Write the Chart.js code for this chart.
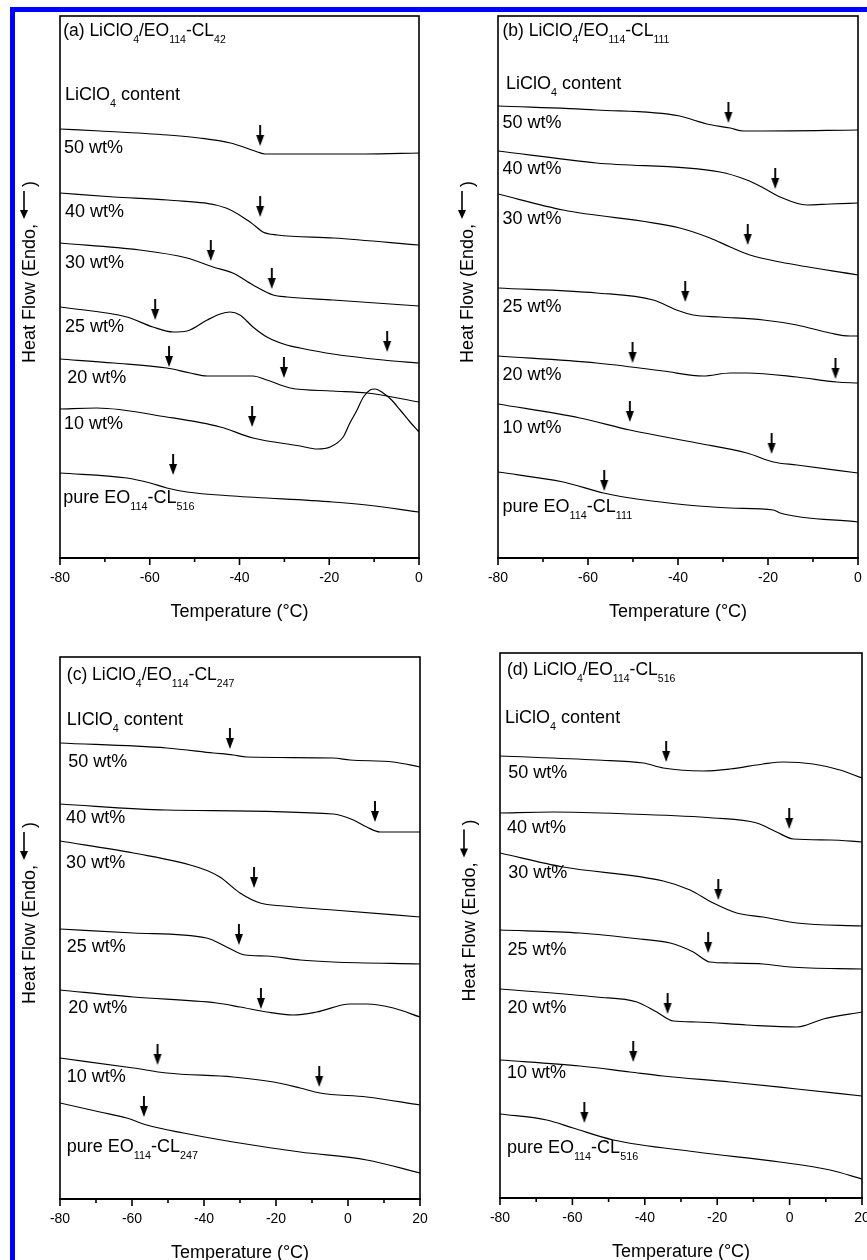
<!DOCTYPE html>
<html>
<head>
<meta charset="utf-8">
<script src="https://cdn.jsdelivr.net/npm/chart.js@4.4.0/dist/chart.umd.min.js"></script>
<style>
html, body { margin: 0; padding: 0; background: #fff; width: 867px; height: 1260px; overflow: hidden; }
#frame { position: absolute; left: 10px; top: 7px; right: 0; bottom: 0; border-top: 5px solid #0000ff; border-left: 5px solid #0000ff; }
canvas { position: absolute; }
</style>
</head>
<body>
<div id="frame"></div>
<canvas id="pa" width="443" height="630" style="left:0;top:0"></canvas>
<canvas id="pb" width="449" height="630" style="left:433px;top:0"></canvas>
<canvas id="pc" width="444" height="630" style="left:0;top:630px"></canvas>
<canvas id="pd" width="453" height="630" style="left:433px;top:630px"></canvas>
<script>
// DSC traces, [temperature (°C), heat flow (a.u., curves offset)]

// (a) LiClO4/EO114-CL42
const a50 = [[-80,42.9],[-71,42.7],[-56,42.3],[-49,42.0],[-42,41.5],[-38.5,41.0],[-36,40.6],[-34.3,40.4],[-25,40.4],[-12,40.4],[0,40.5]];
const a40 = [[-80,36.5],[-68,36.1],[-56,35.8],[-43,35.0],[-38.3,33.8],[-36.5,33.2],[-34.8,32.6],[-31.6,32.3],[-19,32.0],[0,31.3]];
const a30 = [[-80,31.5],[-62.2,30.8],[-51.7,30.0],[-45.9,29.1],[-41.5,28.5],[-37,27.3],[-32.5,26.3],[-29.4,26.1],[-19.2,25.8],[0,25.2]];
const a25 = [[-80,25.1],[-65.1,24.1],[-59.3,23.1],[-54.8,22.6],[-51.7,22.7],[-47.2,23.8],[-44.3,24.4],[-42.1,24.6],[-39.9,24.3],[-37,23.1],[-33.9,22.1],[-29.5,21.3],[-26.5,21.0],[-19.2,20.4],[-8,19.8],[0,19.5]];
const a20 = [[-80,19.9],[-68,19.5],[-56.2,19.0],[-51,18.5],[-47.2,18.2],[-40,18.2],[-37,18.2],[-33.9,17.8],[-28.7,17.0],[-19.2,16.7],[-11.6,16.5],[0,15.6]];
const a10 = [[-80,14.9],[-71.8,15.0],[-56.2,14.1],[-44.3,13.1],[-37,12.0],[-26.5,11.2],[-22.7,10.9],[-19.8,11.1],[-16.9,12.1],[-15.4,13.5],[-13.8,14.8],[-12.4,16.1],[-10.9,16.8],[-9.8,16.9],[-8,16.5],[-6.1,15.8],[-4.2,14.8],[-2,13.6],[0,12.6]];
const aPure = [[-80,8.5],[-65.1,8.0],[-59.9,7.5],[-56.2,7.0],[-51.7,6.6],[-41.4,6.2],[-19.2,5.6],[-11.7,5.3],[0,4.6]];
const aArrows = [[-35.4,41.2],[-35.4,34.1],[-46.4,29.7],[-32.8,26.9],[-58.8,23.8],[-7.1,20.6],[-55.7,19.1],[-30.1,18.0],[-37.2,13.1],[-54.8,8.3]];
const aLabels = [['LiClO_{4} content',-78.9,45.8],['50 wt%',-79.1,40.5],['40 wt%',-78.9,34.1],['30 wt%',-78.9,29.0],['25 wt%',-78.9,22.6],['20 wt%',-78.4,17.5],['10 wt%',-79.1,12.9],['pure EO_{114}-CL_{516}',-79.3,5.5]];

// (b) LiClO4/EO114-CL111
const b50 = [[-80,45.2],[-58.1,44.8],[-39.6,44.2],[-36.6,43.8],[-33.6,43.4],[-28.4,43.0],[-25.5,42.7],[-21,42.7],[0,42.8]];
const b40 = [[-80,40.7],[-58.1,39.5],[-30.7,38.6],[-24.7,37.8],[-21,37.0],[-17.3,36.1],[-11.4,35.3],[-6.2,35.4],[0,35.5]];
const b30 = [[-80,36.4],[-65.5,34.8],[-39.6,33.0],[-32.9,32.0],[-28.4,31.1],[-24,30.3],[-17.3,29.6],[0,28.3]];
const b25 = [[-80,27.0],[-58.1,26.5],[-45.5,25.8],[-40.3,24.8],[-36.6,24.3],[-30.7,24.1],[-21,23.8],[-13.6,23.3],[-6.2,22.5],[-1.8,22.2],[0,22.2]];
const b20 = [[-80,20.2],[-58.1,19.5],[-43.3,18.7],[-34.4,18.2],[-28.4,18.5],[-24.7,18.5],[-13.6,18.1],[-4.7,17.6],[0,17.5]];
const b10 = [[-80,15.4],[-61.8,14.0],[-50.7,12.8],[-35.8,11.5],[-24.7,10.5],[-18.8,9.6],[-13.6,9.3],[0,8.5]];
const bPure = [[-80,8.6],[-65.5,7.6],[-56.6,6.5],[-49.2,5.9],[-28.4,5.0],[-18.8,4.8],[-17.3,4.5],[0,3.6]];
const bArrows = [[-28.8,43.5],[-18.4,36.9],[-24.5,31.3],[-38.4,25.6],[-50.1,19.5],[-5.0,17.9],[-50.7,13.6],[-19.2,10.4],[-56.4,6.7]];
const bLabels = [['LiClO_{4} content',-78.2,46.9],['50 wt%',-79,43.0],['40 wt%',-79,38.4],['30 wt%',-79,33.4],['25 wt%',-79,24.6],['20 wt%',-79,17.8],['10 wt%',-79,12.5],['pure EO_{114}-CL_{111}',-79,4.6]];

// (c) LiClO4/EO114-CL247
const c50 = [[-80,45.6],[-50.4,45.1],[-37.4,44.6],[-31.9,44.4],[-28.1,44.2],[-4.1,44.1],[0.6,43.9],[12.6,43.7],[20,43.2]];
const c40 = [[-80,39.5],[-50.4,38.9],[-4.1,38.5],[1.5,37.9],[5.2,37.2],[8.9,36.7],[20,36.7]];
const c30 = [[-80,35.8],[-59.6,34.6],[-41.1,33.1],[-35.6,32.2],[-30,30.6],[-24.4,29.6],[-18,29.3],[-4.1,28.9],[20,28.2]];
const c25 = [[-80,27.0],[-59.6,26.6],[-39.3,26.1],[-33.7,25.2],[-28.6,24.4],[-22.6,24.3],[-13.3,23.9],[-4.1,23.7],[20,23.5]];
const c20 = [[-80,20.9],[-59.6,20.2],[-36.5,19.6],[-30,19.2],[-22.6,18.7],[-15.2,18.4],[-8.7,18.7],[0.6,19.5],[5.2,19.5],[12.6,19.1],[20,18.2]];
const c10 = [[-80,14.1],[-59.6,13.1],[-50.4,12.6],[-31.9,12.2],[-20.7,11.7],[-13.3,11.1],[-7.8,10.6],[5.2,10.2],[20,9.4]];
const cPure = [[-80,9.6],[-68.9,8.7],[-61.5,8.1],[-55.9,7.4],[-45.7,6.6],[-31.9,5.7],[-13.3,4.7],[5.2,3.9],[20,2.6]];
const cArrows = [[-32.8,45.0],[7.5,37.7],[-26.1,31.1],[-30.3,25.4],[-24.2,19.0],[-52.9,13.4],[-8.0,11.2],[-56.7,8.2]];
const cLabels = [['LIClO_{4} content',-78.1,47.4],['50 wt%',-77.7,43.2],['40 wt%',-78.3,37.6],['30 wt%',-78.3,33.1],['25 wt%',-78.1,24.7],['20 wt%',-77.7,18.6],['10 wt%',-78.1,11.7],['pure EO_{114}-CL_{247}',-78.1,4.7]];

// (d) LiClO4/EO114-CL516
const d50 = [[-80,44.2],[-53.3,43.8],[-40.4,43.5],[-34.9,43.0],[-23.8,42.7],[-16.5,42.9],[-7.3,43.4],[-1.7,43.6],[6.5,43.4],[13.9,42.8],[20,42.0]];
const d40 = [[-80,38.5],[-65.3,38.6],[-44.1,38.4],[-21.1,38.0],[-9.1,37.5],[-3.6,36.6],[1.0,35.9],[11.2,35.8],[20,35.6]];
const d30 = [[-80,34.5],[-62.5,33.1],[-34.9,31.7],[-27.5,30.8],[-21.1,29.5],[-14.6,28.5],[-7.3,28.1],[2.0,27.5],[20,27.2]];
const d25 = [[-80,26.8],[-57.9,26.5],[-41.3,25.9],[-33,25.5],[-26.6,24.6],[-22,23.6],[-16.5,23.5],[-7.3,23.4],[0.1,23.1],[20,22.9]];
const d20 = [[-80,20.9],[-53.3,20.1],[-42.2,19.6],[-36.7,18.6],[-32.1,17.7],[-25.7,17.6],[-11.9,17.3],[2.0,17.1],[4.7,17.3],[9.3,17.9],[20,18.6]];
const d10 = [[-80,13.8],[-57.9,13.2],[-44.1,12.6],[-34.9,12.2],[-16.5,11.6],[2.0,10.9],[20,10.2]];
const dPure = [[-80,8.4],[-67.1,7.8],[-59.8,7.0],[-48.7,5.8],[-25.7,4.6],[-2.7,3.6],[11.2,2.8],[20,1.9]];
const dArrows = [[-34.1,43.6],[-0.1,36.9],[-19.7,29.8],[-22.5,24.5],[-33.7,18.4],[-43.2,13.6],[-56.7,7.5]];
const dLabels = [['LiClO_{4} content',-78.6,47.5],['50 wt%',-77.7,42.0],['40 wt%',-78.1,36.5],['30 wt%',-77.7,32.0],['25 wt%',-77.9,24.3],['20 wt%',-77.9,18.5],['10 wt%',-78.1,12.0],['pure EO_{114}-CL_{516}',-78.1,4.5]];

const titles = ['(a) LiClO_{4}/EO_{114}-CL_{42}', '(b) LiClO_{4}/EO_{114}-CL_{111}', '(c) LiClO_{4}/EO_{114}-CL_{247}', '(d) LiClO_{4}/EO_{114}-CL_{516}'];
const titlePos = [[-79.3,52.2],[-79,52.2],[-78.1,51.9],[-78.1,52.3]];

const FONT = '"Liberation Sans", Arial, sans-serif';

// downward arrow used as point style, tip at the centre of the image
const arrowImg = document.createElement('canvas');
arrowImg.width = 10; arrowImg.height = 42;
(function () {
  const g = arrowImg.getContext('2d');
  g.strokeStyle = '#000'; g.fillStyle = '#000'; g.lineWidth = 1.9;
  g.beginPath(); g.moveTo(5, 0); g.lineTo(5, 12); g.stroke();
  g.beginPath(); g.moveTo(1, 10); g.lineTo(9, 10); g.lineTo(5, 21); g.closePath(); g.fill();
})();

// text with _{subscript} parts
function richText(ctx, str, x, y, size) {
  str.split(/(_\{[^}]*\})/).filter(Boolean).forEach(p => {
    const sub = p.startsWith('_{');
    const txt = sub ? p.slice(2, -1) : p;
    ctx.font = (sub ? size * 0.6 : size) + 'px ' + FONT;
    ctx.fillText(txt, x, y + (sub ? size * 0.4 : 0));
    x += ctx.measureText(txt).width;
  });
}

const decor = {
  id: 'decor',
  afterDatasetsDraw(chart, args, opts) {
    const { ctx, chartArea: a } = chart;
    const x = chart.scales.x, y = chart.scales.y;
    ctx.save();
    ctx.strokeStyle = '#000';
    ctx.fillStyle = '#000';
    // frame
    ctx.lineWidth = 1.6;
    ctx.strokeRect(a.left, a.top, a.right - a.left, a.bottom - a.top);
    ctx.lineWidth = 2.2;
    ctx.beginPath(); ctx.moveTo(a.left - 1, a.bottom); ctx.lineTo(a.right + 1, a.bottom); ctx.stroke();
    // major / minor tick marks
    ctx.lineWidth = 1.6;
    x.ticks.forEach(t => {
      const px = x.getPixelForValue(t.value);
      const len = Math.round(t.value) % 20 === 0 ? 7 : 4;
      ctx.beginPath(); ctx.moveTo(px, a.bottom); ctx.lineTo(px, a.bottom + len); ctx.stroke();
    });
    // panel title and curve labels
    ctx.textBaseline = 'alphabetic';
    ctx.textAlign = 'left';
    richText(ctx, opts.title, x.getPixelForValue(opts.titlePos[0]), y.getPixelForValue(opts.titlePos[1]), 17.5);
    opts.labels.forEach(([txt, t, v]) => richText(ctx, txt, x.getPixelForValue(t), y.getPixelForValue(v), 18));
    // x title
    ctx.font = '18px ' + FONT;
    ctx.textAlign = 'center';
    ctx.fillText('Temperature (°C)', (a.left + a.right) / 2, a.bottom + 59);
    // y title with arrow
    const t1 = 'Heat Flow (Endo, ', t3 = ')';
    ctx.textAlign = 'left';
    const w1 = ctx.measureText(t1).width, w3 = ctx.measureText(t3).width;
    const arrowLen = 28, gap = 4;
    const W = w1 + arrowLen + gap + w3;
    ctx.translate(a.left - 25, (a.top + a.bottom) / 2 - 15);
    ctx.rotate(-Math.PI / 2);
    let sx = -W / 2;
    ctx.fillText(t1, sx, 0);
    sx += w1;
    ctx.lineWidth = 1.6;
    ctx.beginPath(); ctx.moveTo(sx + 6, -11); ctx.lineTo(sx + arrowLen, -11); ctx.stroke();
    ctx.beginPath(); ctx.moveTo(sx, -11); ctx.lineTo(sx + 9, -15); ctx.lineTo(sx + 9, -7); ctx.closePath(); ctx.fill();
    sx += arrowLen + gap;
    ctx.fillText(t3, sx, 0);
    ctx.restore();
  }
};

function makePanel(id, curves, arrows, labels, idx, geo) {
  const datasets = curves.map(c => ({
    data: c.map(([t, v]) => ({ x: t, y: v })),
    borderColor: '#000',
    borderWidth: 1.2,
    pointRadius: 0,
    fill: false,
    cubicInterpolationMode: 'monotone'
  }));
  datasets.push({
    type: 'scatter',
    data: arrows.map(([t, v]) => ({ x: t, y: v })),
    pointStyle: arrowImg,
    pointRadius: 10,
    showLine: false
  });
  new Chart(document.getElementById(id), {
    type: 'line',
    data: { datasets },
    options: {
      responsive: false,
      animation: false,
      events: [],
      layout: { padding: { left: geo.left, top: geo.top, right: 24, bottom: 0 } },
      plugins: {
        legend: { display: false },
        tooltip: { enabled: false },
        decor: { title: titles[idx], titlePos: titlePos[idx], labels }
      },
      scales: {
        x: {
          type: 'linear', min: -80, max: geo.xMax,
          afterFit: s => { s.height = geo.axisH; },
          grid: { display: false, drawTicks: false },
          border: { display: false },
          ticks: {
            stepSize: 10, autoSkip: false, maxRotation: 0, minRotation: 0, padding: 12,
            color: '#000', font: { family: FONT, size: 14 },
            callback: v => Math.round(v) % 20 === 0 ? String(Math.round(v)) : ''
          }
        },
        y: { type: 'linear', display: false, min: 0, max: geo.yMax }
      }
    },
    plugins: [decor]
  });
}

makePanel('pa', [a50, a40, a30, a25, a20, a10, aPure], aArrows, aLabels, 0, { left: 60, top: 16, axisH: 72, xMax: 0, yMax: 54.2 });
makePanel('pb', [b50, b40, b30, b25, b20, b10, bPure], bArrows, bLabels, 1, { left: 65, top: 16, axisH: 72, xMax: 0, yMax: 54.2 });
makePanel('pc', [c50, c40, c30, c25, c20, c10, cPure], cArrows, cLabels, 2, { left: 60, top: 27, axisH: 61, xMax: 20, yMax: 54.2 });
makePanel('pd', [d50, d40, d30, d25, d20, d10, dPure], dArrows, dLabels, 3, { left: 67, top: 23, axisH: 62, xMax: 20, yMax: 54.5 });
</script>
</body>
</html>
